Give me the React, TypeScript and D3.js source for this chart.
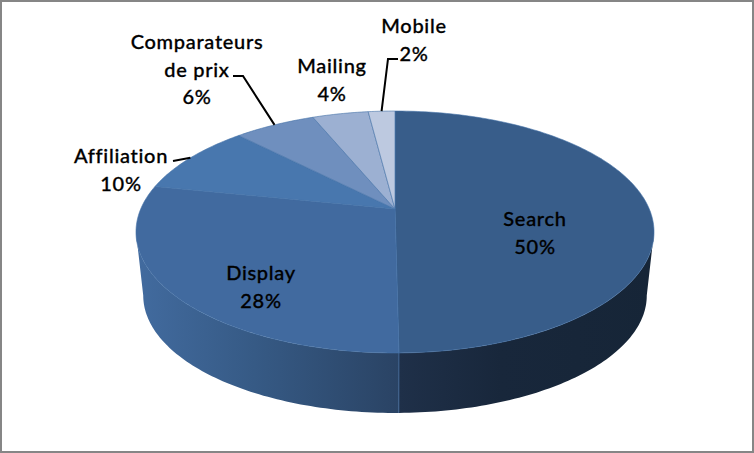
import React from "react";
import * as d3 from "d3";

const categories = ["Search", "Display", "Affiliation", "Comparateurs de prix", "Mailing", "Mobile"];
const shares = [49.8, 28.4, 9.5, 6.1, 4.2, 2.0];
const percentLabels = ["50%", "28%", "10%", "6%", "4%", "2%"];
const sliceColors = ["#385d8a", "#416a9f", "#4877ae", "#6f8fbe", "#9cb0d2", "#bdc9e0"];
const labelLines = [["Search"], ["Display"], ["Affiliation"], ["Comparateurs", "de prix"], ["Mailing"], ["Mobile"]];

const width = 754;
const height = 453;

// where each label block starts (first line centre)
const labelPos: [number, number][] = [[535, 218], [261, 272], [121, 155], [197, 41], [332, 65], [414, 25]];
// elbow of the leader lines: [bend, end], null = no leader
const leaders: ([number, number][] | null)[] = [
  null,
  null,
  [[173, 161], [173, 161]],
  [[243, 76], [233, 76]],
  null,
  [[388, 59], [398, 59]],
];

// tilted disc with a bit of perspective
const apex = { x: 395, y: 209 };
const persp = 0.19;
const scaleU = 254.3;
const scaleV = 116.6;
const project = (a: number): [number, number] => {
  const u = Math.sin(a);
  const v = -Math.cos(a);
  const w = 1 - persp * v;
  return [apex.x + (scaleU * u) / w, apex.y + (scaleV * v) / w];
};
// bottom rim: same disc, a little smaller and pushed down
const projectBottom = (a: number): [number, number] => {
  const [x, y] = project(a);
  return [apex.x + (x - apex.x) * 0.972, 295.6 + (y - 232) * 0.97];
};

const rad = (deg: number) => (deg * Math.PI) / 180;
const line = d3.line();

const arcs = d3
  .pie<number>()
  .sort(null)
  .value((d) => d)(shares);

const rim = (a0: number, a1: number, fn = project) => {
  const n = Math.max(2, Math.ceil(Math.abs(a1 - a0) / rad(1)));
  return d3.range(n + 1).map((i) => fn(a0 + ((a1 - a0) * i) / n));
};

const slicePath = (a0: number, a1: number) =>
  line([[apex.x, apex.y], ...rim(a0, a1)]) + "Z";

const sidePath = (a0: number, a1: number) =>
  line([...rim(a0, a1), ...rim(a1, a0, projectBottom)]) + "Z";

const silhouette = Math.acos(-persp); // angle where the rim is widest

const App: React.FC = () => {
  const searchEnd = arcs[0].endAngle;
  const [sx, sy] = project(searchEnd);
  const [bx, by] = projectBottom(searchEnd);

  return (
    <svg
      width={width}
      height={height}
      style={{ position: "absolute", left: 0, top: 0, background: "#fff" }}
      fontFamily="Lato, Carlito, sans-serif"
    >
      <defs>
        <linearGradient id="sideDisplay" gradientUnits="userSpaceOnUse" x1={136} x2={399} y1={0} y2={0}>
          <stop offset="0" stopColor="#426b9f" />
          <stop offset="0.45" stopColor="#365a85" />
          <stop offset="1" stopColor="#2a4364" />
        </linearGradient>
        <linearGradient id="sideSearch" gradientUnits="userSpaceOnUse" x1={399} x2={654} y1={0} y2={0}>
          <stop offset="0" stopColor="#1f3049" />
          <stop offset="0.4" stopColor="#18273b" />
          <stop offset="1" stopColor="#162537" />
        </linearGradient>
      </defs>

      <rect x={1} y={1} width={width - 2} height={height - 2} fill="#fff" stroke="#868686" strokeWidth={2} />

      <path d={sidePath(silhouette, searchEnd)} fill="url(#sideSearch)" />
      <path d={sidePath(searchEnd, 2 * Math.PI - silhouette)} fill="url(#sideDisplay)" />
      <line x1={sx} y1={sy} x2={bx} y2={by} stroke="#3f6a9e" strokeWidth={0.8} />

      {arcs.map((d, i) => (
        <path
          key={categories[i]}
          d={slicePath(d.startAngle, d.endAngle)}
          fill={sliceColors[i]}
          stroke="#4472a8"
          strokeWidth={0.6}
        />
      ))}

      {arcs.map((d, i) => {
        const pts = leaders[i];
        if (!pts) return null;
        const start = project((d.startAngle + d.endAngle) / 2);
        return (
          <path
            key={categories[i]}
            d={line([start, ...pts]) as string}
            fill="none"
            stroke="#000"
            strokeWidth={2}
          />
        );
      })}

      {categories.map((c, i) => {
        const lines = [...labelLines[i], percentLabels[i]];
        const [x, y] = labelPos[i];
        return (
          <text
            key={c}
            textAnchor="middle"
            fontSize={20}
            fontWeight={500}
            letterSpacing={0.7}
            fill="#000"
            stroke="#000"
            strokeWidth={0.3}
          >
            {lines.map((t, k) => (
              <tspan key={k} x={x} y={y + k * 27.7} dominantBaseline="central">
                {t}
              </tspan>
            ))}
          </text>
        );
      })}
    </svg>
  );
};

export default App;
